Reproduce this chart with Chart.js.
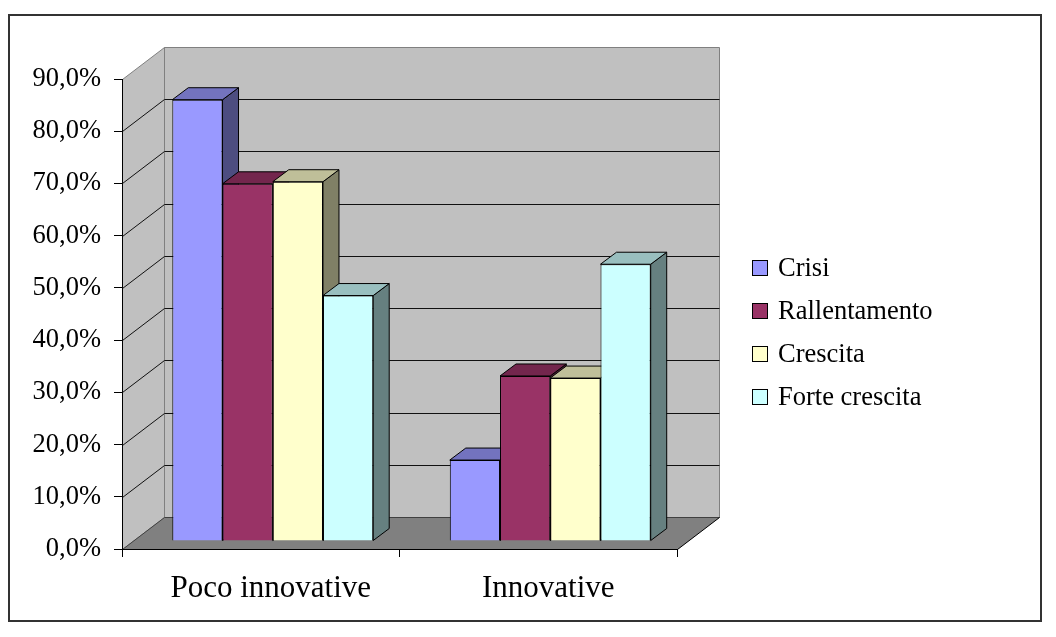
<!DOCTYPE html>
<html>
<head>
<meta charset="utf-8">
<script src="https://cdn.jsdelivr.net/npm/chart.js@4.4.0/dist/chart.umd.min.js"></script>
<style>
  html, body { margin: 0; padding: 0; background: #fff; }
  #wrap { width: 1056px; height: 637px; }
</style>
</head>
<body>
<div id="wrap"><canvas id="innovChart"></canvas></div>
<script>
// Share of firms per outlook, split by innovation profile (percent)
const categories = ['Poco innovative', 'Innovative'];
const seriesNames = ['Crisi', 'Rallentamento', 'Crescita', 'Forte crescita'];
const crisi = [84.5, 15.5];
const rallentamento = [68.4, 31.6];
const crescita = [68.8, 31.2];
const forteCrescita = [47.0, 53.0];
const yMax = 90;
const yStep = 10;

const FONT = "'Liberation Serif', 'Times New Roman', serif";

// front / top / side shades for each series
const shades = [
    ['#9999FF', '#7373BF', '#4D4D80'],
    ['#993366', '#73264D', '#4D1A33'],
    ['#FFFFCC', '#BFBF99', '#808066'],
    ['#CCFFFF', '#99BFBF', '#668080']
];

// depth of the walls and of the bars
const WALL_DX = 42, WALL_DY = -32;
const BAR_DX = 12, BAR_DY = -8;
const SIDE_DX = 16, SIDE_DY = -12;

function poly(ctx, pts, fill, stroke) {
    ctx.beginPath();
    ctx.moveTo(pts[0][0], pts[0][1]);
    for (let i = 1; i < pts.length; i++) ctx.lineTo(pts[i][0], pts[i][1]);
    ctx.closePath();
    if (fill) { ctx.fillStyle = fill; ctx.fill(); }
    if (stroke) { ctx.strokeStyle = stroke; ctx.lineWidth = 1; ctx.stroke(); }
}

// back wall, side wall, floor and the gridlines painted on them
const wallsPlugin = {
    id: 'walls3d',
    beforeDraw(chart) {
        const ctx = chart.ctx;
        const area = chart.chartArea;
        const y = chart.scales.y;
        ctx.save();
        ctx.fillStyle = '#fff';
        ctx.fillRect(0, 0, chart.width, chart.height);

        ctx.strokeStyle = '#333';
        ctx.lineWidth = 2;
        ctx.strokeRect(9, 15, 1032, 606);

        const L = area.left + 0.5, R = area.right + 0.5;
        const top = Math.round(y.getPixelForValue(yMax)) + 0.5;
        const bot = Math.round(y.getPixelForValue(0)) + 0.5;

        // back wall
        poly(ctx, [[L + WALL_DX, top + WALL_DY], [R + WALL_DX, top + WALL_DY],
                   [R + WALL_DX, bot + WALL_DY], [L + WALL_DX, bot + WALL_DY]], '#C0C0C0', '#808080');
        // side wall
        poly(ctx, [[L, top], [L + WALL_DX, top + WALL_DY],
                   [L + WALL_DX, bot + WALL_DY], [L, bot]], '#C0C0C0', '#808080');

        // gridlines
        ctx.strokeStyle = '#111';
        ctx.lineWidth = 1;
        for (let v = yStep; v < yMax; v += yStep) {
            const py = Math.round(y.getPixelForValue(v)) + 0.5;
            ctx.beginPath();
            ctx.moveTo(L, py);
            ctx.lineTo(L + WALL_DX, py + WALL_DY);
            ctx.lineTo(R + WALL_DX, py + WALL_DY);
            ctx.stroke();
        }

        // floor
        poly(ctx, [[L, bot], [R, bot], [R + WALL_DX, bot + WALL_DY], [L + WALL_DX, bot + WALL_DY]], '#808080', null);
        ctx.strokeStyle = '#404040';
        ctx.beginPath();
        ctx.moveTo(L, bot);
        ctx.lineTo(L + WALL_DX, bot + WALL_DY);
        ctx.lineTo(R + WALL_DX, bot + WALL_DY);
        ctx.stroke();
        ctx.strokeStyle = '#000';
        ctx.beginPath();
        ctx.moveTo(R, bot);
        ctx.lineTo(R + WALL_DX, bot + WALL_DY);
        ctx.stroke();
        ctx.restore();
    }
};

// top and side faces of the bars; the fronts are drawn by Chart.js
const barsPlugin = {
    id: 'bars3d',
    beforeDatasetsDraw(chart) {
        const ctx = chart.ctx;
        ctx.save();
        ctx.translate(BAR_DX, BAR_DY);
        for (let i = 0; i < categories.length; i++) {
            chart.data.datasets.forEach((ds, d) => {
                const bar = chart.getDatasetMeta(d).data[i];
                const left = bar.x - bar.width / 2;
                const right = bar.x + bar.width / 2;
                const top = bar.y, base = bar.base;
                poly(ctx, [[right, top], [right + SIDE_DX, top + SIDE_DY],
                           [right + SIDE_DX, base + SIDE_DY], [right, base]], shades[d][2], '#000');
                poly(ctx, [[left, top], [right, top],
                           [right + SIDE_DX, top + SIDE_DY], [left + SIDE_DX, top + SIDE_DY]], shades[d][1], '#000');
            });
        }
    },
    afterDatasetsDraw(chart) {
        chart.ctx.restore();
    }
};

// legend on the right
const legendPlugin = {
    id: 'legendRight',
    afterDraw(chart) {
        const ctx = chart.ctx;
        ctx.save();
        ctx.font = '26.5px ' + FONT;
        ctx.textBaseline = 'middle';
        ctx.textAlign = 'left';
        chart.data.datasets.forEach((ds, d) => {
            const cy = 268 + d * 43;
            ctx.fillStyle = ds.backgroundColor;
            ctx.fillRect(752.5, cy - 7.5, 15, 15);
            ctx.strokeStyle = '#000';
            ctx.lineWidth = 1;
            ctx.strokeRect(752.5, cy - 7.5, 15, 15);
            ctx.fillStyle = '#000';
            ctx.fillText(ds.label, 778, cy + 1);
        });
        ctx.restore();
    }
};

const seriesValues = [crisi, rallentamento, crescita, forteCrescita];

const canvas = document.getElementById('innovChart');
new Chart(canvas, {
    type: 'bar',
    data: {
        labels: categories,
        datasets: seriesNames.map((name, d) => ({
            label: name,
            data: seriesValues[d],
            backgroundColor: shades[d][0],
            borderColor: '#000',
            borderWidth: 1,
            categoryPercentage: 0.724,
            barPercentage: 1,
            clip: false
        }))
    },
    options: {
        responsive: true,
        maintainAspectRatio: false,
        animation: false,
        layout: { padding: { top: 79, right: 379, bottom: 0, left: 0 } },
        plugins: {
            legend: { display: false },
            tooltip: { enabled: false }
        },
        scales: {
            x: {
                grid: { drawOnChartArea: false, drawTicks: true, tickLength: 8, color: '#000' },
                border: { display: true, color: '#000' },
                ticks: {
                    font: { family: FONT, size: 31 },
                    color: '#000',
                    padding: 13,
                    labelOffset: 10
                },
                afterFit(scale) { scale.height = 88; }
            },
            y: {
                min: 0,
                max: yMax,
                grid: { drawOnChartArea: false, drawTicks: true, tickLength: 8, color: '#000' },
                border: { display: true, color: '#000' },
                ticks: {
                    stepSize: yStep,
                    font: { family: FONT, size: 26.5 },
                    color: '#000',
                    padding: 13,
                    callback: v => v.toFixed(1).replace('.', ',') + '%'
                },
                afterFit(scale) { scale.width = 122; }
            }
        }
    },
    plugins: [wallsPlugin, barsPlugin, legendPlugin]
});
</script>
</body>
</html>
